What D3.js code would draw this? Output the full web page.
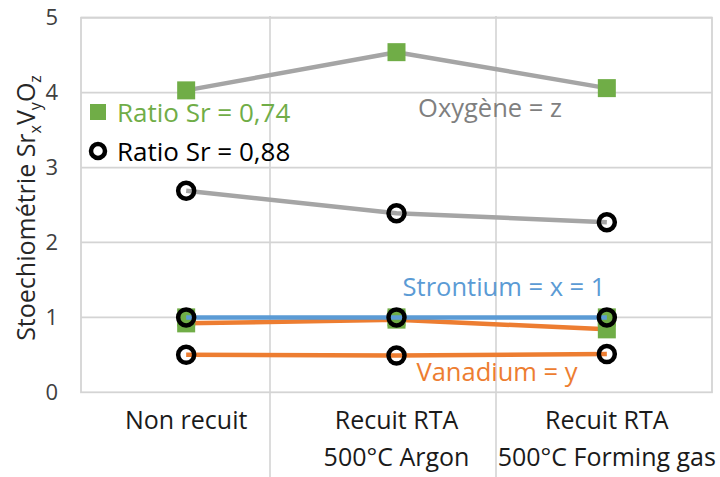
<!DOCTYPE html>
<html>
<head>
<meta charset="utf-8">
<script src="https://cdn.jsdelivr.net/npm/d3@7"></script>
<style>
  html, body { margin: 0; padding: 0; background: #fff; }
  svg { display: block; font-family: "Open Sans", "Noto Sans", sans-serif; }
</style>
</head>
<body>
<svg id="chart" width="720" height="477"></svg>
<script>
// Treatment conditions along the x axis (two text lines each)
const categories = ["Non recuit", "Recuit RTA 500°C Argon", "Recuit RTA 500°C Forming gas"];
const categoryLines = [["Non recuit"], ["Recuit RTA", "500°C Argon"], ["Recuit RTA", "500°C Forming gas"]];
const yTicks = [0, 1, 2, 3, 4, 5];

// Stoichiometry, Sr ratio 0.74 (green squares)
const oxygen074 = [4.03, 4.54, 4.06];
const strontium074 = [1.0, 1.0, 1.0];
const vanadium074 = [0.92, 0.97, 0.84];

// Stoichiometry, Sr ratio 0.88 (black circles)
const oxygen088 = [2.69, 2.39, 2.27];
const strontium088 = [1.0, 1.0, 1.0];
const vanadium088 = [0.50, 0.49, 0.51];

const legendLabels = ["Ratio Sr = 0,74", "Ratio Sr = 0,88"];

const colors = {
  oxygen: "#a5a5a5",
  strontium: "#5b9bd5",
  vanadium: "#ed7d31",
  green: "#70ad47",
  grid: "#d4d4d4"
};

const svg = d3.select("#chart");
const plot = { left: 81, right: 712, top: 17.7, bottom: 392.3 };

const x = d3.scalePoint().domain(categories).range([plot.left, plot.right]).padding(0.5);
const y = d3.scaleLinear().domain([0, 5]).range([plot.bottom, plot.top]);

// Separator lines running through the category labels
[270, 496].forEach(px => {
  svg.append("line").attr("x1", px).attr("x2", px).attr("y1", 16).attr("y2", 477)
    .attr("stroke", colors.grid).attr("stroke-width", 1.6);
});

// Horizontal gridlines
svg.append("g").selectAll("line").data(yTicks.filter(d => d > 0)).join("line")
  .attr("x1", plot.left).attr("x2", plot.right)
  .attr("y1", d => y(d)).attr("y2", d => y(d))
  .attr("stroke", colors.grid).attr("stroke-width", 1.8);

// Plot frame
svg.append("rect").attr("x", plot.left).attr("y", plot.top)
  .attr("width", plot.right - plot.left).attr("height", plot.bottom - plot.top)
  .attr("fill", "none").attr("stroke", colors.grid).attr("stroke-width", 1.8);

// Y axis tick labels
const yAxis = d3.axisLeft(y).tickValues(yTicks).tickSize(0).tickPadding(0).tickFormat(d3.format("d"));
const yg = svg.append("g").attr("transform", `translate(${plot.left - 23},0)`).call(yAxis);
yg.select(".domain").remove();
yg.selectAll("text").attr("font-size", 22).attr("fill", "#404040")
  .attr("font-family", "'Open Sans', sans-serif");

// Y axis title with subscripts
const title = svg.append("text")
  .attr("transform", "translate(35,208) rotate(-90)")
  .attr("text-anchor", "middle").attr("font-size", 25).attr("fill", "#262626");
[["Stoechiométrie Sr", false], ["x", true], ["V", false], ["y", true], ["O", false], ["z", true]]
  .forEach(([t, sub]) => {
    const ts = title.append("tspan").text(t);
    if (sub) ts.attr("font-size", 16).attr("dy", 6);
    else if (t !== "Stoechiométrie Sr") ts.attr("dy", -6);
  });

// X axis category labels
const xl = svg.append("g");
categories.forEach((c, i) => {
  categoryLines[i].forEach((line, j) => {
    xl.append("text").attr("x", x(c)).attr("y", 429 + j * 37)
      .attr("text-anchor", "middle").attr("font-size", 25).attr("fill", "#1a1a1a")
      .text(line);
  });
});

const lineGen = d3.line().x((d, i) => x(categories[i])).y(d => y(d));

function drawLine(values, color) {
  svg.append("path").datum(values).attr("d", lineGen)
    .attr("fill", "none").attr("stroke", color).attr("stroke-width", 4.5)
    .attr("stroke-linejoin", "round");
}
function drawSquares(values) {
  const s = 18;
  svg.append("g").selectAll("rect").data(values).join("rect")
    .attr("x", (d, i) => x(categories[i]) - s / 2).attr("y", d => y(d) - s / 2)
    .attr("width", s).attr("height", s).attr("fill", colors.green);
}
function drawCircles(values) {
  svg.append("g").selectAll("circle").data(values).join("circle")
    .attr("cx", (d, i) => x(categories[i])).attr("cy", d => y(d)).attr("r", 8)
    .attr("fill", "none").attr("stroke", "#000").attr("stroke-width", 4.5);
}

// Sr ratio 0.74 series
drawLine(oxygen074, colors.oxygen);
drawSquares(oxygen074);
drawLine(vanadium074, colors.vanadium);
drawSquares(vanadium074);
drawSquares(strontium074);

// Sr ratio 0.88 series
drawLine(oxygen088, colors.oxygen);
drawLine(vanadium088, colors.vanadium);
drawLine(strontium088, colors.strontium);
drawCircles(oxygen088);
drawCircles(strontium088);
drawCircles(vanadium088);

// Element annotations
const notes = [
  { text: "Oxygène = z", cx: 490, v: 3.80, color: "#7f7f7f" },
  { text: "Strontium = x = 1", cx: 504, v: 1.41, color: colors.strontium },
  { text: "Vanadium = y", cx: 497, v: 0.275, color: colors.vanadium }
];
svg.append("g").selectAll("text").data(notes).join("text")
  .attr("x", d => d.cx).attr("y", d => y(d.v)).attr("dy", "0.35em")
  .attr("text-anchor", "middle").attr("font-size", 25.5).attr("fill", d => d.color)
  .text(d => d.text);

// Legend
const lg = svg.append("g");
lg.append("rect").attr("x", 90).attr("y", 104).attr("width", 16).attr("height", 16).attr("fill", colors.green);
lg.append("text").attr("x", 117).attr("y", 113).attr("dy", "0.35em").attr("font-size", 26)
  .attr("fill", colors.green).text(legendLabels[0]);
lg.append("circle").attr("cx", 98).attr("cy", 151).attr("r", 7).attr("fill", "none")
  .attr("stroke", "#000").attr("stroke-width", 4.5);
lg.append("text").attr("x", 117).attr("y", 152).attr("dy", "0.35em").attr("font-size", 26)
  .attr("fill", "#000").text(legendLabels[1]);
</script>
</body>
</html>
